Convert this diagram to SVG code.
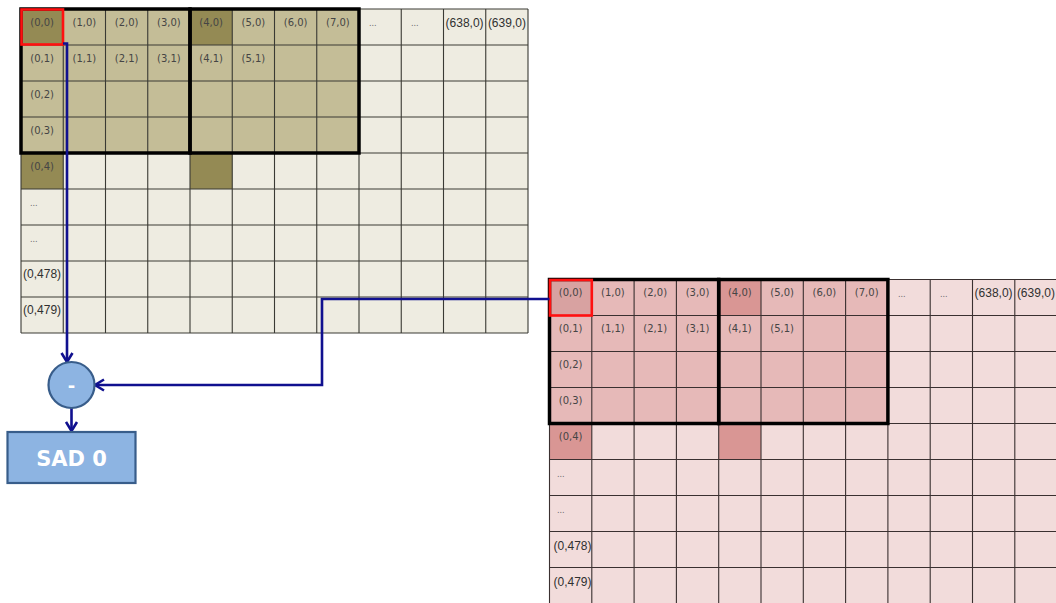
<svg xmlns="http://www.w3.org/2000/svg" width="1056" height="603" viewBox="0 0 1056 603">
<style>
.lb{font-family:"DejaVu Sans",sans-serif;font-size:10px;fill:#454545;text-anchor:middle}
.lw{font-family:"Liberation Sans",Arial,sans-serif;font-size:12px;fill:#303030;text-anchor:middle}
.dt{font-family:"DejaVu Sans",sans-serif;font-size:8px;fill:#666}
.thick{fill:none;stroke:#000;stroke-width:3.5}
.red{fill:none;stroke:#ff1010;stroke-width:2.6}
.conn{fill:none;stroke:#10108f;stroke-width:2.6;marker-end:url(#arr)}
</style>
<defs>
<marker id="arr" markerUnits="userSpaceOnUse" markerWidth="14" markerHeight="14" viewBox="0 0 14 14" refX="11" refY="7" orient="auto">
<path d="M2,1.5 L11,7 L2,12.5" fill="none" stroke="#10108f" stroke-width="2.6" stroke-linejoin="miter"/>
</marker>
</defs>
<rect width="1056" height="603" fill="#fff"/>

<g id="grid-reference">
<rect x="21" y="9" width="507" height="324" fill="#EEECE1"/>
<rect x="21" y="9" width="338" height="144" fill="#C4BD97"/>
<rect x="21" y="9" width="42.25" height="36" fill="#948A54"/>
<rect x="190" y="9" width="42.25" height="36" fill="#948A54"/>
<rect x="21" y="153" width="42.25" height="36" fill="#948A54"/>
<rect x="190" y="153" width="42.25" height="36" fill="#948A54"/>
<path d="M21,9V333M63.25,9V333M105.5,9V333M147.75,9V333M190,9V333M232.25,9V333M274.5,9V333M316.75,9V333M359,9V333M401.25,9V333M443.5,9V333M485.75,9V333M528,9V333M21,9H528M21,45H528M21,81H528M21,117H528M21,153H528M21,189H528M21,225H528M21,261H528M21,297H528M21,333H528" stroke="#3a3a34" stroke-width="1.1" fill="none"/>
<rect class="thick" x="21" y="9" width="169" height="144"/>
<rect class="thick" x="190" y="9" width="169" height="144"/>
<rect class="red" x="21.5" y="9.5" width="41.5" height="35"/>
<text class="lb" x="42.1" y="25.5">(0,0)</text>
<text class="lb" x="84.4" y="25.5">(1,0)</text>
<text class="lb" x="126.6" y="25.5">(2,0)</text>
<text class="lb" x="168.9" y="25.5">(3,0)</text>
<text class="lb" x="211.1" y="25.5">(4,0)</text>
<text class="lb" x="253.4" y="25.5">(5,0)</text>
<text class="lb" x="295.6" y="25.5">(6,0)</text>
<text class="lb" x="337.9" y="25.5">(7,0)</text>
<text class="dt" x="369" y="26">...</text>
<text class="dt" x="411" y="26">...</text>
<text class="lw" x="464.6" y="26.5">(638,0)</text>
<text class="lw" x="506.9" y="26.5">(639,0)</text>
<text class="lb" x="42.1" y="61.5">(0,1)</text>
<text class="lb" x="84.4" y="61.5">(1,1)</text>
<text class="lb" x="126.6" y="61.5">(2,1)</text>
<text class="lb" x="168.9" y="61.5">(3,1)</text>
<text class="lb" x="211.1" y="61.5">(4,1)</text>
<text class="lb" x="253.4" y="61.5">(5,1)</text>
<text class="lb" x="42.1" y="97.5">(0,2)</text>
<text class="lb" x="42.1" y="133.5">(0,3)</text>
<text class="lb" x="42.1" y="169.5">(0,4)</text>
<text class="dt" x="30" y="206">...</text>
<text class="dt" x="30" y="242">...</text>
<text class="lw" x="42.1" y="278">(0,478)</text>
<text class="lw" x="42.1" y="314">(0,479)</text>
</g>

<g id="grid-current">
<rect x="549.5" y="279.5" width="508" height="324" fill="#F2DCDB"/>
<rect x="549.5" y="279.5" width="338.4" height="144" fill="#E6B9B8"/>
<rect x="549.5" y="279.5" width="42.3" height="36" fill="#D8A2A1"/>
<rect x="718.7" y="279.5" width="42.3" height="36" fill="#D99694"/>
<rect x="549.5" y="423.5" width="42.3" height="36" fill="#D99694"/>
<rect x="718.7" y="423.5" width="42.3" height="36" fill="#D99694"/>
<path d="M549.5,279.5V603.5M591.8,279.5V603.5M634.1,279.5V603.5M676.4,279.5V603.5M718.7,279.5V603.5M761,279.5V603.5M803.3,279.5V603.5M845.6,279.5V603.5M887.9,279.5V603.5M930.2,279.5V603.5M972.5,279.5V603.5M1014.8,279.5V603.5M549.5,279.5H1057M549.5,315.5H1057M549.5,351.5H1057M549.5,387.5H1057M549.5,423.5H1057M549.5,459.5H1057M549.5,495.5H1057M549.5,531.5H1057M549.5,567.5H1057" stroke="#3a3030" stroke-width="1.1" fill="none"/>
<rect class="thick" x="549.5" y="279.5" width="169.2" height="144"/>
<rect class="thick" x="718.7" y="279.5" width="169.2" height="144"/>
<rect class="red" x="550" y="280" width="41.8" height="35.5"/>
<text class="lb" x="570.6" y="296">(0,0)</text>
<text class="lb" x="612.9" y="296">(1,0)</text>
<text class="lb" x="655.2" y="296">(2,0)</text>
<text class="lb" x="697.5" y="296">(3,0)</text>
<text class="lb" x="739.8" y="296">(4,0)</text>
<text class="lb" x="782.1" y="296">(5,0)</text>
<text class="lb" x="824.4" y="296">(6,0)</text>
<text class="lb" x="866.7" y="296">(7,0)</text>
<text class="dt" x="898" y="296.5">...</text>
<text class="dt" x="940" y="296.5">...</text>
<text class="lw" x="993.6" y="297">(638,0)</text>
<text class="lw" x="1035.9" y="297">(639,0)</text>
<text class="lb" x="570.6" y="332">(0,1)</text>
<text class="lb" x="612.9" y="332">(1,1)</text>
<text class="lb" x="655.2" y="332">(2,1)</text>
<text class="lb" x="697.5" y="332">(3,1)</text>
<text class="lb" x="739.8" y="332">(4,1)</text>
<text class="lb" x="782.1" y="332">(5,1)</text>
<text class="lb" x="570.6" y="368">(0,2)</text>
<text class="lb" x="570.6" y="404">(0,3)</text>
<text class="lb" x="570.6" y="440">(0,4)</text>
<text class="dt" x="557" y="477">...</text>
<text class="dt" x="557" y="513">...</text>
<text class="lw" x="572.5" y="549.5">(0,478)</text>
<text class="lw" x="572.5" y="585.5">(0,479)</text>
</g>

<g id="connectors">
<path class="conn" d="M63,43.5 H67 V362"/>
<path class="conn" d="M549.5,299 H322 V385 H95"/>
<path class="conn" d="M71.5,408 V431"/>
</g>

<g id="node-subtract">
<circle cx="71.5" cy="385" r="23" fill="#8DB4E2" stroke="#385D8A" stroke-width="2.2"/>
<text x="71.5" y="392" font-family="DejaVu Sans, sans-serif" font-size="18" font-weight="bold" fill="#fff" text-anchor="middle">-</text>
</g>

<g id="node-sad">
<rect x="7.5" y="432" width="128" height="51" fill="#8DB4E2" stroke="#385D8A" stroke-width="2.2"/>
<text x="71.5" y="466" font-family="DejaVu Sans, sans-serif" font-size="21" font-weight="bold" fill="#fff" text-anchor="middle">SAD 0</text>
</g>
</svg>
